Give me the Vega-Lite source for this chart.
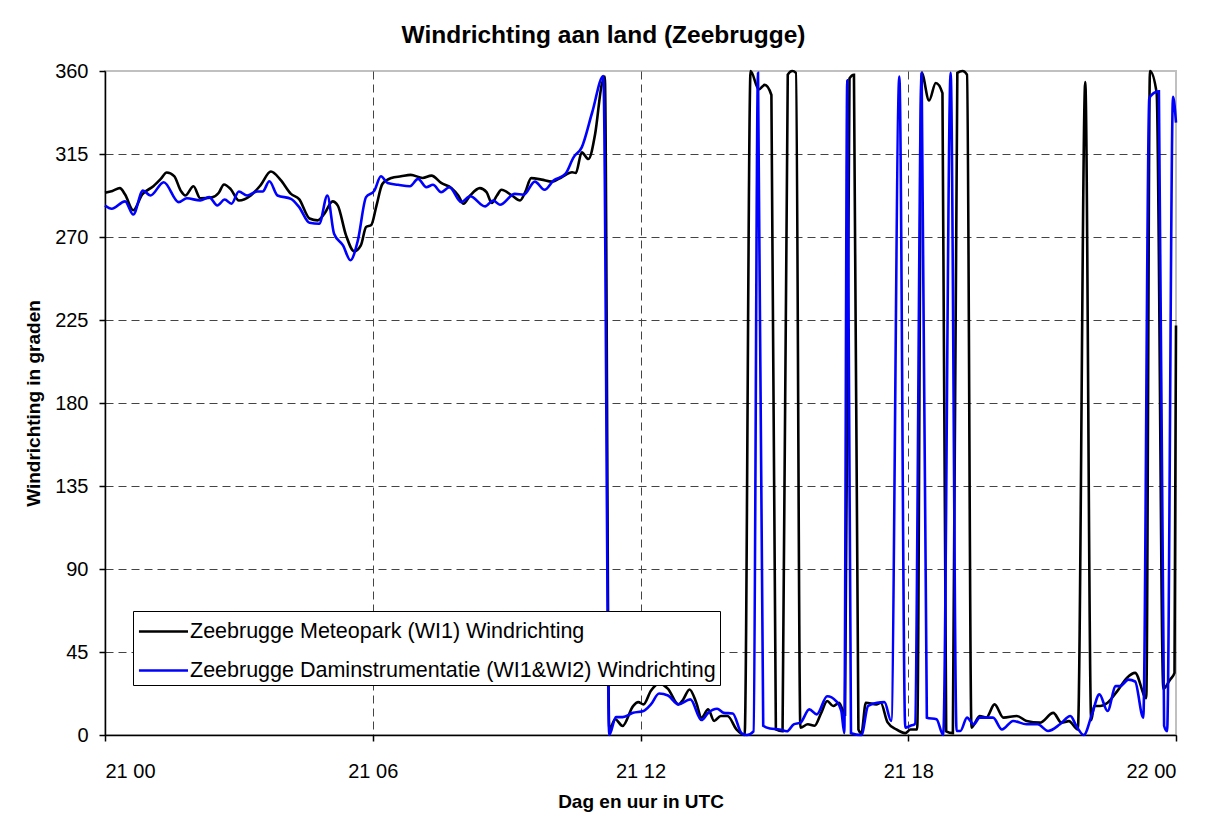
{
  "$schema": "https://vega.github.io/schema/vega-lite/v6.json",
  "width": 1071,
  "height": 664,
  "autosize": {"type": "none"},
  "padding": {"left": 105, "top": 71, "right": 40, "bottom": 88},
  "background": "white",
  "title": {"text": "Windrichting aan land (Zeebrugge)", "fontSize": 24.5, "fontWeight": "bold", "font": "Liberation Sans", "color": "black", "anchor": "middle", "dx": -37, "offset": 13},
  "config": {
    "font": "Liberation Sans",
    "view": {"stroke": "#c0c0c0", "strokeWidth": 2},
    "axis": {
      "domainColor": "black", "domainWidth": 1.5, "tickColor": "black", "tickWidth": 1.5, "tickSize": 6,
      "labelFont": "Liberation Sans", "labelFontSize": 20, "labelColor": "black",
      "titleFont": "Liberation Sans", "titleFontSize": 19, "titleFontWeight": "bold", "titleColor": "black",
      "gridDash": [8, 5], "gridWidth": 1,
      "gridColor": {"condition": {"test": "datum.index == 1", "value": "transparent"}, "value": "#444444"}
    }
  },
  "data": {"values": [
    {"t":"2010-01-21T00:00","v":294,"s":"M"},{"t":"2010-01-21T00:10","v":295,"s":"M"},{"t":"2010-01-21T00:20","v":296.5,"s":"M"},{"t":"2010-01-21T00:27","v":293,"s":"M"},{"t":"2010-01-21T00:38","v":284.5,"s":"M"},{"t":"2010-01-21T00:50","v":293,"s":"M"},{"t":"2010-01-21T01:05","v":297.5,"s":"M"},{"t":"2010-01-21T01:15","v":301.5,"s":"M"},{"t":"2010-01-21T01:23","v":305,"s":"M"},{"t":"2010-01-21T01:33","v":303,"s":"M"},{"t":"2010-01-21T01:42","v":295,"s":"M"},{"t":"2010-01-21T01:48","v":292.5,"s":"M"},{"t":"2010-01-21T01:59","v":297.5,"s":"M"},{"t":"2010-01-21T02:08","v":291,"s":"M"},{"t":"2010-01-21T02:24","v":291.5,"s":"M"},{"t":"2010-01-21T02:33","v":294,"s":"M"},{"t":"2010-01-21T02:40","v":298.5,"s":"M"},{"t":"2010-01-21T02:49","v":296,"s":"M"},{"t":"2010-01-21T03:00","v":289.8,"s":"M"},{"t":"2010-01-21T03:16","v":292.5,"s":"M"},{"t":"2010-01-21T03:29","v":298,"s":"M"},{"t":"2010-01-21T03:43","v":305.5,"s":"M"},{"t":"2010-01-21T03:56","v":301,"s":"M"},{"t":"2010-01-21T04:10","v":293.4,"s":"M"},{"t":"2010-01-21T04:21","v":290.5,"s":"M"},{"t":"2010-01-21T04:35","v":280,"s":"M"},{"t":"2010-01-21T04:46","v":279,"s":"M"},{"t":"2010-01-21T04:55","v":282.6,"s":"M"},{"t":"2010-01-21T05:06","v":289.3,"s":"M"},{"t":"2010-01-21T05:13","v":287,"s":"M"},{"t":"2010-01-21T05:24","v":271,"s":"M"},{"t":"2010-01-21T05:35","v":262.3,"s":"M"},{"t":"2010-01-21T05:44","v":265.5,"s":"M"},{"t":"2010-01-21T05:51","v":275.4,"s":"M"},{"t":"2010-01-21T05:58","v":276.5,"s":"M"},{"t":"2010-01-21T06:05","v":287,"s":"M"},{"t":"2010-01-21T06:13","v":298.8,"s":"M"},{"t":"2010-01-21T06:25","v":302,"s":"M"},{"t":"2010-01-21T06:38","v":302.9,"s":"M"},{"t":"2010-01-21T06:51","v":303.7,"s":"M"},{"t":"2010-01-21T07:07","v":302,"s":"M"},{"t":"2010-01-21T07:19","v":303.3,"s":"M"},{"t":"2010-01-21T07:32","v":299.3,"s":"M"},{"t":"2010-01-21T07:46","v":296.5,"s":"M"},{"t":"2010-01-21T07:55","v":292.5,"s":"M"},{"t":"2010-01-21T08:02","v":288,"s":"M"},{"t":"2010-01-21T08:11","v":292.5,"s":"M"},{"t":"2010-01-21T08:24","v":296.5,"s":"M"},{"t":"2010-01-21T08:33","v":294.3,"s":"M"},{"t":"2010-01-21T08:40","v":288.5,"s":"M"},{"t":"2010-01-21T08:47","v":292.5,"s":"M"},{"t":"2010-01-21T08:53","v":295.6,"s":"M"},{"t":"2010-01-21T09:07","v":292.5,"s":"M"},{"t":"2010-01-21T09:18","v":289.8,"s":"M"},{"t":"2010-01-21T09:25","v":294.3,"s":"M"},{"t":"2010-01-21T09:33","v":301.9,"s":"M"},{"t":"2010-01-21T09:47","v":301.1,"s":"M"},{"t":"2010-01-21T10:01","v":300,"s":"M"},{"t":"2010-01-21T10:14","v":302.4,"s":"M"},{"t":"2010-01-21T10:28","v":305.1,"s":"M"},{"t":"2010-01-21T10:33","v":304.7,"s":"M"},{"t":"2010-01-21T10:41","v":315.9,"s":"M"},{"t":"2010-01-21T10:50","v":312.3,"s":"M"},{"t":"2010-01-21T10:59","v":325.8,"s":"M"},{"t":"2010-01-21T11:08","v":352.8,"s":"M"},{"t":"2010-01-21T11:12","v":357,"s":"M"},{"t":"2010-01-21T11:18","v":3,"s":"M"},{"t":"2010-01-21T11:26","v":8.5,"s":"M"},{"t":"2010-01-21T11:36","v":4.9,"s":"M"},{"t":"2010-01-21T11:50","v":15.7,"s":"M"},{"t":"2010-01-21T11:57","v":17.8,"s":"M"},{"t":"2010-01-21T12:04","v":16.6,"s":"M"},{"t":"2010-01-21T12:14","v":24,"s":"M"},{"t":"2010-01-21T12:25","v":28,"s":"M"},{"t":"2010-01-21T12:37","v":25,"s":"M"},{"t":"2010-01-21T12:51","v":16.6,"s":"M"},{"t":"2010-01-21T12:57","v":19,"s":"M"},{"t":"2010-01-21T13:06","v":24.7,"s":"M"},{"t":"2010-01-21T13:15","v":17.5,"s":"M"},{"t":"2010-01-21T13:22","v":9.4,"s":"M"},{"t":"2010-01-21T13:31","v":13.9,"s":"M"},{"t":"2010-01-21T13:39","v":7.6,"s":"M"},{"t":"2010-01-21T13:48","v":10.3,"s":"M"},{"t":"2010-01-21T13:57","v":10.3,"s":"M"},{"t":"2010-01-21T14:09","v":3.1,"s":"M"},{"t":"2010-01-21T14:20","v":0,"s":"M"},{"t":"2010-01-21T14:28","v":360,"s":"M"},{"t":"2010-01-21T14:39","v":350,"s":"M"},{"t":"2010-01-21T14:47","v":352.5,"s":"M"},{"t":"2010-01-21T14:56","v":347,"s":"M"},{"t":"2010-01-21T15:02","v":3,"s":"M"},{"t":"2010-01-21T15:11","v":2,"s":"M"},{"t":"2010-01-21T15:18","v":358,"s":"M"},{"t":"2010-01-21T15:24","v":360,"s":"M"},{"t":"2010-01-21T15:29","v":359,"s":"M"},{"t":"2010-01-21T15:35","v":4,"s":"M"},{"t":"2010-01-21T15:45","v":5.8,"s":"M"},{"t":"2010-01-21T15:54","v":5,"s":"M"},{"t":"2010-01-21T16:03","v":12,"s":"M"},{"t":"2010-01-21T16:11","v":18.4,"s":"M"},{"t":"2010-01-21T16:19","v":15.7,"s":"M"},{"t":"2010-01-21T16:27","v":17.5,"s":"M"},{"t":"2010-01-21T16:35","v":11,"s":"M"},{"t":"2010-01-21T16:41","v":356,"s":"M"},{"t":"2010-01-21T16:47","v":358,"s":"M"},{"t":"2010-01-21T16:53","v":3,"s":"M"},{"t":"2010-01-21T16:57","v":1,"s":"M"},{"t":"2010-01-21T17:03","v":17.5,"s":"M"},{"t":"2010-01-21T17:17","v":16.6,"s":"M"},{"t":"2010-01-21T17:23","v":17.5,"s":"M"},{"t":"2010-01-21T17:32","v":7,"s":"M"},{"t":"2010-01-21T17:44","v":3,"s":"M"},{"t":"2010-01-21T17:56","v":1,"s":"M"},{"t":"2010-01-21T18:03","v":3,"s":"M"},{"t":"2010-01-21T18:12","v":3,"s":"M"},{"t":"2010-01-21T18:18","v":359,"s":"M"},{"t":"2010-01-21T18:28","v":344,"s":"M"},{"t":"2010-01-21T18:37","v":353.5,"s":"M"},{"t":"2010-01-21T18:46","v":348,"s":"M"},{"t":"2010-01-21T18:51","v":2,"s":"M"},{"t":"2010-01-21T19:00","v":1,"s":"M"},{"t":"2010-01-21T19:06","v":359,"s":"M"},{"t":"2010-01-21T19:13","v":360,"s":"M"},{"t":"2010-01-21T19:19","v":358,"s":"M"},{"t":"2010-01-21T19:25","v":4,"s":"M"},{"t":"2010-01-21T19:36","v":10.3,"s":"M"},{"t":"2010-01-21T19:45","v":9.5,"s":"M"},{"t":"2010-01-21T19:56","v":16.6,"s":"M"},{"t":"2010-01-21T20:08","v":9.4,"s":"M"},{"t":"2010-01-21T20:26","v":10.3,"s":"M"},{"t":"2010-01-21T20:39","v":7.6,"s":"M"},{"t":"2010-01-21T20:57","v":6.7,"s":"M"},{"t":"2010-01-21T21:15","v":12,"s":"M"},{"t":"2010-01-21T21:26","v":6.7,"s":"M"},{"t":"2010-01-21T21:36","v":7.5,"s":"M"},{"t":"2010-01-21T21:48","v":3,"s":"M"},{"t":"2010-01-21T21:58","v":354,"s":"M"},{"t":"2010-01-21T22:06","v":8,"s":"M"},{"t":"2010-01-21T22:10","v":15.7,"s":"M"},{"t":"2010-01-21T22:18","v":15.7,"s":"M"},{"t":"2010-01-21T22:28","v":17.5,"s":"M"},{"t":"2010-01-21T22:41","v":23.8,"s":"M"},{"t":"2010-01-21T22:54","v":31,"s":"M"},{"t":"2010-01-21T23:05","v":33.7,"s":"M"},{"t":"2010-01-21T23:20","v":20,"s":"M"},{"t":"2010-01-21T23:25","v":360,"s":"M"},{"t":"2010-01-21T23:34","v":348,"s":"M"},{"t":"2010-01-21T23:43","v":25,"s":"M"},{"t":"2010-01-21T23:52","v":30,"s":"M"},{"t":"2010-01-21T23:58","v":33.7,"s":"M"},{"t":"2010-01-22T00:00","v":222,"s":"M"},
    {"t":"2010-01-21T00:00","v":287.1,"s":"D"},{"t":"2010-01-21T00:09","v":285.3,"s":"D"},{"t":"2010-01-21T00:27","v":289.3,"s":"D"},{"t":"2010-01-21T00:38","v":282.2,"s":"D"},{"t":"2010-01-21T00:51","v":295.2,"s":"D"},{"t":"2010-01-21T01:01","v":292.5,"s":"D"},{"t":"2010-01-21T01:19","v":299.7,"s":"D"},{"t":"2010-01-21T01:39","v":288.9,"s":"D"},{"t":"2010-01-21T01:50","v":291,"s":"D"},{"t":"2010-01-21T02:08","v":289.8,"s":"D"},{"t":"2010-01-21T02:20","v":291.6,"s":"D"},{"t":"2010-01-21T02:31","v":287.1,"s":"D"},{"t":"2010-01-21T02:41","v":290.3,"s":"D"},{"t":"2010-01-21T02:50","v":288,"s":"D"},{"t":"2010-01-21T03:00","v":294.7,"s":"D"},{"t":"2010-01-21T03:11","v":292.5,"s":"D"},{"t":"2010-01-21T03:25","v":294.7,"s":"D"},{"t":"2010-01-21T03:32","v":294.7,"s":"D"},{"t":"2010-01-21T03:41","v":300.2,"s":"D"},{"t":"2010-01-21T03:52","v":292.5,"s":"D"},{"t":"2010-01-21T04:10","v":290.7,"s":"D"},{"t":"2010-01-21T04:21","v":286.2,"s":"D"},{"t":"2010-01-21T04:35","v":277.7,"s":"D"},{"t":"2010-01-21T04:48","v":277.2,"s":"D"},{"t":"2010-01-21T04:59","v":292.5,"s":"D"},{"t":"2010-01-21T05:08","v":271.8,"s":"D"},{"t":"2010-01-21T05:20","v":265.5,"s":"D"},{"t":"2010-01-21T05:30","v":257.4,"s":"D"},{"t":"2010-01-21T05:40","v":268.2,"s":"D"},{"t":"2010-01-21T05:51","v":291.6,"s":"D"},{"t":"2010-01-21T06:02","v":295,"s":"D"},{"t":"2010-01-21T06:11","v":302.9,"s":"D"},{"t":"2010-01-21T06:20","v":299.3,"s":"D"},{"t":"2010-01-21T06:34","v":298.3,"s":"D"},{"t":"2010-01-21T06:50","v":297.5,"s":"D"},{"t":"2010-01-21T07:01","v":301.5,"s":"D"},{"t":"2010-01-21T07:12","v":297,"s":"D"},{"t":"2010-01-21T07:21","v":298.3,"s":"D"},{"t":"2010-01-21T07:32","v":294.3,"s":"D"},{"t":"2010-01-21T07:43","v":297,"s":"D"},{"t":"2010-01-21T07:59","v":288.9,"s":"D"},{"t":"2010-01-21T08:11","v":292.1,"s":"D"},{"t":"2010-01-21T08:31","v":286.6,"s":"D"},{"t":"2010-01-21T08:42","v":289.8,"s":"D"},{"t":"2010-01-21T08:51","v":287.5,"s":"D"},{"t":"2010-01-21T09:11","v":293.4,"s":"D"},{"t":"2010-01-21T09:23","v":292.9,"s":"D"},{"t":"2010-01-21T09:38","v":300,"s":"D"},{"t":"2010-01-21T09:51","v":295.6,"s":"D"},{"t":"2010-01-21T10:03","v":300.6,"s":"D"},{"t":"2010-01-21T10:19","v":304.2,"s":"D"},{"t":"2010-01-21T10:30","v":313.2,"s":"D"},{"t":"2010-01-21T10:41","v":318.6,"s":"D"},{"t":"2010-01-21T10:55","v":337.5,"s":"D"},{"t":"2010-01-21T11:10","v":357.3,"s":"D"},{"t":"2010-01-21T11:18","v":0,"s":"D"},{"t":"2010-01-21T11:27","v":9.7,"s":"D"},{"t":"2010-01-21T11:36","v":9.7,"s":"D"},{"t":"2010-01-21T11:50","v":12,"s":"D"},{"t":"2010-01-21T12:04","v":13,"s":"D"},{"t":"2010-01-21T12:14","v":16.6,"s":"D"},{"t":"2010-01-21T12:25","v":22.5,"s":"D"},{"t":"2010-01-21T12:37","v":21.4,"s":"D"},{"t":"2010-01-21T12:51","v":16.6,"s":"D"},{"t":"2010-01-21T13:07","v":19.3,"s":"D"},{"t":"2010-01-21T13:22","v":8.1,"s":"D"},{"t":"2010-01-21T13:31","v":12,"s":"D"},{"t":"2010-01-21T13:43","v":14.2,"s":"D"},{"t":"2010-01-21T13:52","v":12,"s":"D"},{"t":"2010-01-21T14:04","v":11.7,"s":"D"},{"t":"2010-01-21T14:16","v":0.9,"s":"D"},{"t":"2010-01-21T14:23","v":0,"s":"D"},{"t":"2010-01-21T14:32","v":2,"s":"D"},{"t":"2010-01-21T14:38","v":359,"s":"D"},{"t":"2010-01-21T14:45","v":5,"s":"D"},{"t":"2010-01-21T14:54","v":3.5,"s":"D"},{"t":"2010-01-21T15:07","v":3,"s":"D"},{"t":"2010-01-21T15:17","v":2,"s":"D"},{"t":"2010-01-21T15:26","v":5.8,"s":"D"},{"t":"2010-01-21T15:35","v":6.7,"s":"D"},{"t":"2010-01-21T15:47","v":13.9,"s":"D"},{"t":"2010-01-21T15:57","v":11.2,"s":"D"},{"t":"2010-01-21T16:11","v":21,"s":"D"},{"t":"2010-01-21T16:23","v":18.4,"s":"D"},{"t":"2010-01-21T16:30","v":13,"s":"D"},{"t":"2010-01-21T16:34","v":1,"s":"D"},{"t":"2010-01-21T16:38","v":355,"s":"D"},{"t":"2010-01-21T16:43","v":1,"s":"D"},{"t":"2010-01-21T16:57","v":0,"s":"D"},{"t":"2010-01-21T17:06","v":15.7,"s":"D"},{"t":"2010-01-21T17:18","v":17.5,"s":"D"},{"t":"2010-01-21T17:28","v":17.8,"s":"D"},{"t":"2010-01-21T17:37","v":7.6,"s":"D"},{"t":"2010-01-21T17:48","v":357,"s":"D"},{"t":"2010-01-21T17:56","v":4,"s":"D"},{"t":"2010-01-21T18:03","v":5,"s":"D"},{"t":"2010-01-21T18:09","v":6,"s":"D"},{"t":"2010-01-21T18:18","v":359,"s":"D"},{"t":"2010-01-21T18:25","v":9.4,"s":"D"},{"t":"2010-01-21T18:38","v":8.5,"s":"D"},{"t":"2010-01-21T18:47","v":0,"s":"D"},{"t":"2010-01-21T18:57","v":359,"s":"D"},{"t":"2010-01-21T19:05","v":2.2,"s":"D"},{"t":"2010-01-21T19:10","v":2.2,"s":"D"},{"t":"2010-01-21T19:19","v":9.4,"s":"D"},{"t":"2010-01-21T19:28","v":5.8,"s":"D"},{"t":"2010-01-21T19:36","v":9.4,"s":"D"},{"t":"2010-01-21T19:54","v":9.4,"s":"D"},{"t":"2010-01-21T20:06","v":3,"s":"D"},{"t":"2010-01-21T20:21","v":7.6,"s":"D"},{"t":"2010-01-21T20:39","v":5.8,"s":"D"},{"t":"2010-01-21T20:54","v":5.8,"s":"D"},{"t":"2010-01-21T21:08","v":2.2,"s":"D"},{"t":"2010-01-21T21:24","v":5.8,"s":"D"},{"t":"2010-01-21T21:38","v":10.3,"s":"D"},{"t":"2010-01-21T21:46","v":4.9,"s":"D"},{"t":"2010-01-21T21:56","v":0,"s":"D"},{"t":"2010-01-21T22:07","v":11.2,"s":"D"},{"t":"2010-01-21T22:17","v":22,"s":"D"},{"t":"2010-01-21T22:28","v":13,"s":"D"},{"t":"2010-01-21T22:39","v":26.5,"s":"D"},{"t":"2010-01-21T22:45","v":26.5,"s":"D"},{"t":"2010-01-21T22:56","v":30,"s":"D"},{"t":"2010-01-21T23:05","v":29,"s":"D"},{"t":"2010-01-21T23:16","v":9.4,"s":"D"},{"t":"2010-01-21T23:24","v":345,"s":"D"},{"t":"2010-01-21T23:30","v":348,"s":"D"},{"t":"2010-01-21T23:37","v":349,"s":"D"},{"t":"2010-01-21T23:44","v":5,"s":"D"},{"t":"2010-01-21T23:48","v":2,"s":"D"},{"t":"2010-01-21T23:56","v":346,"s":"D"},{"t":"2010-01-22T00:00","v":332,"s":"D"}
  ]},
  "encoding": {
    "x": {"field": "t", "type": "temporal",
      "scale": {"domain": [{"year": 2010, "month": 1, "date": 21, "hours": 0}, {"year": 2010, "month": 1, "date": 22, "hours": 0}]},
      "axis": {"title": "Dag en uur in UTC", "format": "%d %H", "labelPadding": 20, "titlePadding": 11,
        "values": [{"year": 2010, "month": 1, "date": 21, "hours": 0}, {"year": 2010, "month": 1, "date": 21, "hours": 6}, {"year": 2010, "month": 1, "date": 21, "hours": 12}, {"year": 2010, "month": 1, "date": 21, "hours": 18}, {"year": 2010, "month": 1, "date": 22, "hours": 0}]}},
    "y": {"field": "v", "type": "quantitative",
      "scale": {"domain": [0, 360], "nice": false},
      "axis": {"title": "Windrichting in graden", "values": [0, 45, 90, 135, 180, 225, 270, 315, 360], "labelPadding": 11, "titlePadding": 11}},
    "color": {"field": "s", "type": "nominal",
      "scale": {"domain": ["M", "D"], "range": ["#000000", "#0000ff"]},
      "legend": {"title": null, "orient": "none", "legendX": 28, "legendY": 540, "direction": "vertical",
        "labelExpr": "datum.label == 'M' ? 'Zeebrugge Meteopark (WI1) Windrichting' : 'Zeebrugge Daminstrumentatie (WI1&WI2) Windrichting'",
        "labelFont": "Liberation Sans", "labelFontSize": 21.5, "labelColor": "black", "labelLimit": 0, "labelOffset": 20,
        "symbolType": "M-0.97,0H2.3", "symbolSize": 900, "symbolStrokeWidth": 2.5,
        "rowPadding": 12, "padding": 4, "fillColor": "white", "strokeColor": "black"}}
  },
  "layer": [
    {"transform": [{"filter": "datum.s == 'M'"}], "mark": {"type": "line", "interpolate": "monotone", "strokeWidth": 2.6}},
    {"transform": [{"filter": "datum.s == 'D'"}], "mark": {"type": "line", "interpolate": "monotone", "strokeWidth": 2.6}}
  ]
}
